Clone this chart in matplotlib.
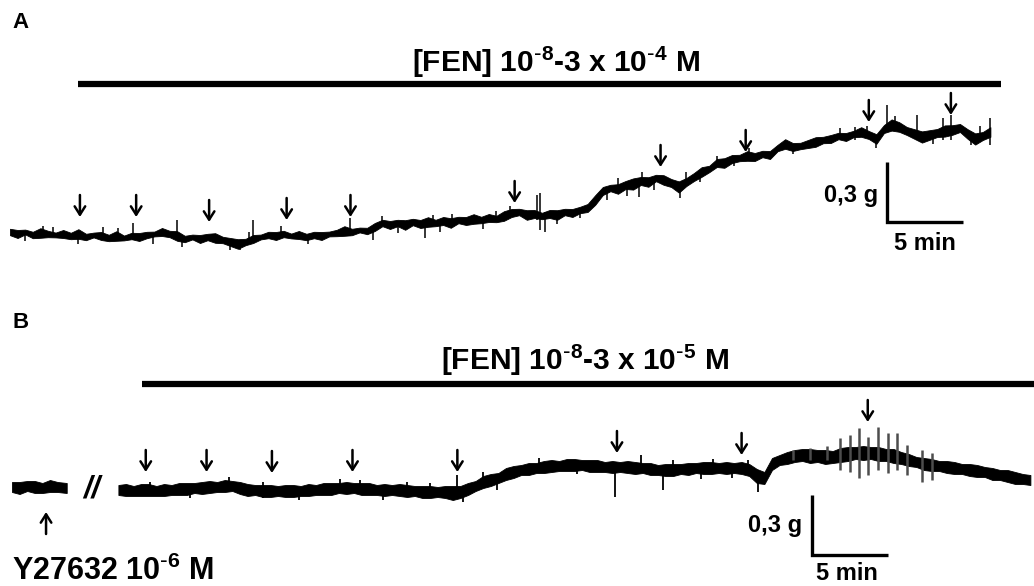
import matplotlib
matplotlib.use("Agg")
import matplotlib.pyplot as plt
import numpy as np

plt.rcParams['font.family'] = ['Liberation Sans', 'DejaVu Sans']
plt.rcParams['mathtext.default'] = 'regular'

# ---------------- Panel A: FEN 10^-8 - 3x10^-4 M ----------------
# time axis in minutes, tension in grams (relative)
time_step = 0.5
tension_a = [
    0.04, 0.03, 0.04, 0.025, 0.035, 0.03, 0.025, 0.03, 0.02, 0.03,
    0.015, 0.025, 0.02, 0.01, 0.02, 0.01, 0.02, 0.015, 0.025, 0.03,
    0.04, 0.03, 0.02, 0.005, 0.015, 0.005, 0.015, 0.01, 0.0, -0.01,
    -0.02, -0.01, 0.005, 0.015, 0.025, 0.02, 0.03, 0.02, 0.025, 0.015,
    0.025, 0.02, 0.03, 0.035, 0.045, 0.04, 0.05, 0.045, 0.065, 0.085,
    0.075, 0.085, 0.075, 0.09, 0.08, 0.09, 0.085, 0.095, 0.085, 0.1,
    0.095, 0.105, 0.1, 0.11, 0.105, 0.12, 0.135, 0.14, 0.125, 0.13,
    0.12, 0.13, 0.125, 0.14, 0.135, 0.15, 0.16, 0.2, 0.245, 0.26,
    0.255, 0.275, 0.28, 0.295, 0.29, 0.31, 0.3, 0.285, 0.265, 0.29,
    0.315, 0.34, 0.355, 0.385, 0.385, 0.405, 0.41, 0.42, 0.415, 0.43,
    0.425, 0.46, 0.48, 0.465, 0.47, 0.48, 0.49, 0.5, 0.505, 0.52,
    0.515, 0.53, 0.54, 0.525, 0.505, 0.555, 0.575, 0.565, 0.545, 0.53,
    0.515, 0.525, 0.535, 0.545, 0.55, 0.56, 0.53, 0.505, 0.52, 0.54,
]
noise_a = [
    0.016, 0.02, 0.012, 0.016, 0.024, 0.016, 0.012, 0.02, 0.016, 0.024,
    0.016, 0.012, 0.02, 0.016, 0.024, 0.012, 0.016, 0.02, 0.016, 0.012,
    0.02, 0.016, 0.024, 0.016, 0.012, 0.02, 0.016, 0.024, 0.016, 0.02,
    0.024, 0.016, 0.02, 0.012, 0.016, 0.02, 0.016, 0.012, 0.02, 0.016,
    0.016, 0.02, 0.012, 0.016, 0.024, 0.016, 0.012, 0.016, 0.02, 0.016,
    0.02, 0.016, 0.024, 0.016, 0.02, 0.024, 0.016, 0.02, 0.024, 0.016,
    0.02, 0.024, 0.016, 0.02, 0.016, 0.024, 0.02, 0.016, 0.024, 0.02,
    0.016, 0.02, 0.024, 0.016, 0.02, 0.016, 0.02, 0.024, 0.02, 0.016,
    0.024, 0.02, 0.028, 0.02, 0.024, 0.016, 0.024, 0.02, 0.028, 0.02,
    0.02, 0.024, 0.016, 0.02, 0.024, 0.02, 0.016, 0.024, 0.02, 0.016,
    0.02, 0.016, 0.024, 0.02, 0.016, 0.02, 0.024, 0.016, 0.02, 0.016,
    0.02, 0.016, 0.024, 0.02, 0.024, 0.02, 0.028, 0.024, 0.02, 0.024,
    0.028, 0.024, 0.02, 0.028, 0.024, 0.02, 0.024, 0.028, 0.02, 0.024,
]
# transient spikes on the trace: time, low, high
spike_t_a = [1.0, 2.2, 2.8, 4.5, 6.1, 7.1, 8.1, 9.4, 11.0, 11.3,
             14.5, 15.1, 15.7, 16.0, 17.8, 19.6, 22.4, 23.9, 24.5, 25.5,
             27.3, 27.8, 28.3, 29.1, 31.1, 32.0, 32.9, 34.7, 34.9, 35.2,
             36.0, 37.5, 39.3, 40.0, 40.6, 41.4, 41.6, 42.4, 44.1, 44.5,
             45.4, 46.5, 47.6, 48.6, 51.5, 54.6, 55.6, 56.4, 57.0, 57.7,
             58.2, 59.7, 60.7, 61.4, 61.9, 63.2, 63.8, 64.5]
spike_lo_a = [-0.005, 0.03, 0.03, -0.02, 0.02, 0.02, 0.0, -0.02, 0.02, -0.035,
              -0.05, -0.05, -0.01, 0.0, 0.025, -0.02, 0.02, 0.0, 0.085, 0.035,
              0.01, 0.085, 0.04, 0.085, 0.055, 0.105, 0.135, 0.1, 0.05, 0.04,
              0.08, 0.11, 0.2, 0.255, 0.22, 0.215, 0.295, 0.25, 0.21, 0.29,
              0.29, 0.385, 0.37, 0.42, 0.43, 0.52, 0.5, 0.525, 0.46, 0.54,
              0.575, 0.5, 0.48, 0.5, 0.5, 0.475, 0.505, 0.475]
spike_hi_a = [0.04, 0.07, 0.065, 0.03, 0.065, 0.06, 0.085, 0.03, 0.1, 0.015,
              -0.01, 0.0, 0.04, 0.1, 0.07, 0.02, 0.11, 0.05, 0.12, 0.085,
              0.09, 0.125, 0.09, 0.13, 0.1, 0.145, 0.17, 0.225, 0.235, 0.14,
              0.125, 0.15, 0.26, 0.31, 0.275, 0.29, 0.34, 0.31, 0.265, 0.34,
              0.34, 0.42, 0.405, 0.46, 0.465, 0.56, 0.565, 0.57, 0.505, 0.675,
              0.62, 0.625, 0.525, 0.61, 0.625, 0.53, 0.57, 0.61]
# drug additions (arrow tip positions)
arrow_t_a = [4.6, 8.3, 13.1, 18.2, 22.4, 33.2, 42.8, 48.4, 56.5, 61.9]
arrow_y_a = [0.115, 0.115, 0.09, 0.1, 0.115, 0.185, 0.365, 0.44, 0.59, 0.625]
drug_a = (4.47, 65.2)

# ---------------- Panel B: Y27632 + FEN 10^-8 - 3x10^-5 M ----------------
pre_t_b = [0.0, 0.5, 1.0, 1.5, 2.0, 2.5, 3.0, 3.6]
pre_b = [0.065, 0.06, 0.07, 0.065, 0.06, 0.07, 0.065, 0.06]
pre_noise_b = [0.025, 0.03, 0.025, 0.03, 0.025, 0.03, 0.025, 0.025]
start_b = 7.0
tension_b = [
    0.05, 0.05, 0.045, 0.05, 0.05, 0.045, 0.05, 0.05, 0.055, 0.055,
    0.06, 0.06, 0.065, 0.065, 0.07, 0.07, 0.06, 0.05, 0.05, 0.045,
    0.045, 0.045, 0.045, 0.045, 0.045, 0.05, 0.05, 0.055, 0.055, 0.06,
    0.06, 0.06, 0.055, 0.055, 0.05, 0.05, 0.05, 0.05, 0.045, 0.045,
    0.04, 0.04, 0.04, 0.04, 0.035, 0.04, 0.055, 0.07, 0.09, 0.1,
    0.11, 0.13, 0.14, 0.15, 0.155, 0.16, 0.165, 0.17, 0.17, 0.175,
    0.175, 0.175, 0.17, 0.17, 0.165, 0.165, 0.165, 0.165, 0.16, 0.16,
    0.155, 0.15, 0.15, 0.15, 0.155, 0.155, 0.16, 0.16, 0.16, 0.16,
    0.16, 0.16, 0.16, 0.15, 0.12, 0.11, 0.18, 0.2, 0.21, 0.22,
    0.225, 0.22, 0.22, 0.215, 0.215, 0.225, 0.23, 0.235, 0.235, 0.235,
    0.23, 0.225, 0.22, 0.21, 0.2, 0.19, 0.18, 0.175, 0.17, 0.165,
    0.16, 0.155, 0.15, 0.145, 0.14, 0.13, 0.125, 0.12, 0.11, 0.105,
    0.1,
]
noise_b = [
    0.025, 0.03, 0.025, 0.03, 0.03, 0.025, 0.03, 0.025, 0.03, 0.03,
    0.025, 0.03, 0.03, 0.025, 0.03, 0.025, 0.03, 0.03, 0.025, 0.03,
    0.03, 0.025, 0.03, 0.03, 0.025, 0.03, 0.025, 0.03, 0.03, 0.025,
    0.03, 0.025, 0.03, 0.03, 0.025, 0.03, 0.025, 0.03, 0.03, 0.025,
    0.03, 0.03, 0.025, 0.03, 0.035, 0.03, 0.03, 0.025, 0.03, 0.03,
    0.025, 0.03, 0.03, 0.025, 0.03, 0.025, 0.03, 0.03, 0.025, 0.03,
    0.03, 0.025, 0.03, 0.03, 0.025, 0.03, 0.025, 0.03, 0.03, 0.025,
    0.03, 0.025, 0.03, 0.03, 0.025, 0.03, 0.025, 0.03, 0.03, 0.025,
    0.03, 0.025, 0.03, 0.03, 0.035, 0.03, 0.03, 0.025, 0.03, 0.03,
    0.03, 0.035, 0.03, 0.035, 0.03, 0.035, 0.035, 0.03, 0.035, 0.03,
    0.035, 0.03, 0.035, 0.03, 0.03, 0.025, 0.03, 0.03, 0.025, 0.03,
    0.03, 0.025, 0.03, 0.03, 0.025, 0.03, 0.025, 0.03, 0.03, 0.025,
    0.025,
]
spike_t_b = [9.1, 11.7, 14.3, 16.5, 18.9, 21.6, 22.9, 24.4, 26.0, 27.5,
             29.3, 29.7, 31.0, 31.9, 34.7, 37.2, 39.7, 41.4, 42.8, 43.5,
             45.3, 46.1, 47.4, 48.4, 49.1]
spike_lo_b = [0.045, 0.01, 0.07, 0.01, 0.0, 0.06, 0.055, 0.0, 0.045, 0.04,
              0.05, -0.01, 0.09, 0.05, 0.16, 0.13, 0.015, 0.17, 0.05, 0.155,
              0.105, 0.16, 0.11, 0.155, 0.04]
spike_hi_b = [0.09, 0.055, 0.115, 0.09, 0.045, 0.105, 0.1, 0.05, 0.09, 0.085,
              0.125, 0.04, 0.14, 0.1, 0.21, 0.175, 0.17, 0.225, 0.16, 0.2,
              0.155, 0.205, 0.16, 0.2, 0.15]
# large oscillations near the top concentration
osc_t_b = [51.4, 52.5, 53.6, 54.5, 55.1, 55.7, 56.3, 57.0, 57.6, 58.2, 58.9, 59.9, 60.5]
osc_lo_b = [0.2, 0.2, 0.2, 0.15, 0.14, 0.11, 0.125, 0.15, 0.135, 0.15, 0.125, 0.09, 0.1]
osc_hi_b = [0.25, 0.26, 0.27, 0.31, 0.325, 0.36, 0.315, 0.365, 0.335, 0.335, 0.275, 0.25, 0.235]
arrow_t_b = [8.8, 12.8, 17.1, 22.4, 29.3, 39.8, 48.0, 56.3]
arrow_y_b = [0.14, 0.14, 0.135, 0.14, 0.14, 0.235, 0.225, 0.39]
y27632_t, y27632_y = 2.24, -0.06
drug_b = (8.55, 67.5)

# ---------------- layout ----------------
W, H = 1034, 586
PX_MIN = 15.2   # pixels per minute
PX_G = 200.0    # pixels per gram
ARROW_LEN = 0.11

fig = plt.figure(figsize=(W / 100, H / 100), dpi=100)
fig.patch.set_facecolor('white')

axA = fig.add_axes([0, 1 - 290 / H, 1, 290 / H])
axB = fig.add_axes([0, 0, 1, 296 / H])
axA.set_xlim(-10 / PX_MIN, (W - 10) / PX_MIN)
axA.set_ylim(-50 / PX_G, 240 / PX_G)
axB.set_xlim(-12 / PX_MIN, (W - 12) / PX_MIN)
axB.set_ylim(-86 / PX_G, 210 / PX_G)
for ax in (axA, axB):
    ax.axis('off')

ARROW_STYLE = '->,head_length=0.6,head_width=0.38'


def draw_trace(ax, t0, center, noise, lw=0.6):
    t = t0 + time_step * np.arange(len(center))
    c = np.asarray(center)
    n = np.asarray(noise)
    ax.fill_between(t, c - n, c + n, color='black', lw=lw, edgecolor='black')


def draw_arrows(ax, ts, ys, up=False):
    sign = -1 if up else 1
    for t, y in zip(ts, ys):
        ax.annotate('', xy=(t, y), xytext=(t, y + sign * ARROW_LEN),
                    arrowprops=dict(arrowstyle=ARROW_STYLE, lw=1.8, color='black',
                                    shrinkA=0, shrinkB=0))


def scale_bar(ax, t, y, label_g_pos, label_t_pos):
    ax.plot([t, t, t + 5], [y + 0.3, y, y], color='black', lw=2.4,
            solid_joinstyle='miter', solid_capstyle='butt')
    ax.text(label_g_pos[0], label_g_pos[1], '0,3 g', ha='right', va='baseline',
            fontsize=17, fontweight='bold')
    ax.text(label_t_pos[0], label_t_pos[1], '5 min', ha='center', va='baseline',
            fontsize=17, fontweight='bold')


# Panel A
draw_trace(axA, 0.0, tension_a, noise_a)
axA.vlines(spike_t_a, spike_lo_a, spike_hi_a, color='black', lw=1.1)
draw_arrows(axA, arrow_t_a, arrow_y_a)
axA.plot(drug_a, [0.7825, 0.7825], color='black', lw=4.5, solid_capstyle='butt')
axA.text(35.9, 0.84, r'[FEN] 10$^{\text{-}8}$-3 x 10$^{\text{-}4}$ M', ha='center',
         va='baseline', fontsize=21.5, fontweight='bold')
scale_bar(axA, 57.7, 0.09, (57.1, 0.19), (60.2, -0.05))

# Panel B
axB.fill_between(pre_t_b, np.subtract(pre_b, pre_noise_b), np.add(pre_b, pre_noise_b),
                 color='black', lw=0.6, edgecolor='black')
draw_trace(axB, start_b, tension_b, noise_b)
axB.vlines(spike_t_b, spike_lo_b, spike_hi_b, color='black', lw=1.3)
axB.vlines(osc_t_b, osc_lo_b, osc_hi_b, color='0.3', lw=1.8)
draw_arrows(axB, arrow_t_b, arrow_y_b)
draw_arrows(axB, [y27632_t], [y27632_y], up=True)
axB.text(5.26, 0.05, '//', ha='center', va='center', fontsize=22, fontweight='bold',
         style='italic')
axB.plot(drug_b, [0.58, 0.58], color='black', lw=4.5, solid_capstyle='butt')
axB.text(37.7, 0.65, r'[FEN] 10$^{\text{-}8}$-3 x 10$^{\text{-}5}$ M', ha='center',
         va='baseline', fontsize=21.5, fontweight='bold')
axB.text(0.0, -0.4, r'Y27632 10$^{\text{-}6}$ M', ha='left', va='baseline',
         fontsize=22, fontweight='bold')
scale_bar(axB, 52.6, -0.275, (52.0, -0.16), (54.9, -0.4))

fig.text(12 / W, 1 - 28 / H, 'A', ha='left', va='baseline', fontsize=16, fontweight='bold')
fig.text(12 / W, 1 - 328 / H, 'B', ha='left', va='baseline', fontsize=16, fontweight='bold')

fig.savefig('out.png', dpi=100, facecolor='white')
